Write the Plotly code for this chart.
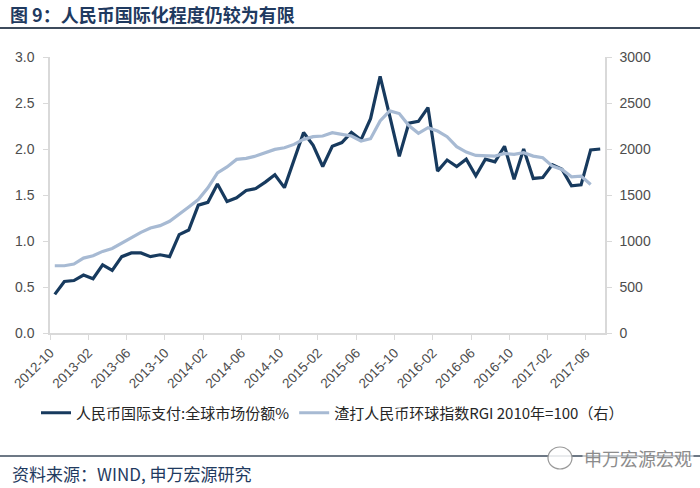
import plotly.graph_objects as go

months = ["2012-10","2012-11","2012-12","2013-01","2013-02","2013-03","2013-04","2013-05","2013-06","2013-07",
          "2013-08","2013-09","2013-10","2013-11","2013-12","2014-01","2014-02","2014-03","2014-04","2014-05",
          "2014-06","2014-07","2014-08","2014-09","2014-10","2014-11","2014-12","2015-01","2015-02","2015-03",
          "2015-04","2015-05","2015-06","2015-07","2015-08","2015-09","2015-10","2015-11","2015-12","2016-01",
          "2016-02","2016-03","2016-04","2016-05","2016-06","2016-07","2016-08","2016-09","2016-10","2016-11",
          "2016-12","2017-01","2017-02","2017-03","2017-04","2017-05","2017-06","2017-07"]

swift_share = [0.42,0.56,0.57,0.63,0.59,0.74,0.68,0.83,0.87,0.87,
               0.83,0.85,0.83,1.07,1.12,1.39,1.42,1.62,1.43,1.47,
               1.55,1.57,1.64,1.72,1.58,1.89,2.18,2.04,1.81,2.03,
               2.07,2.18,2.10,2.33,2.79,2.36,1.92,2.28,2.30,2.45,
               1.76,1.88,1.81,1.89,1.71,1.89,1.86,2.03,1.67,2.00,
               1.68,1.69,1.83,1.78,1.60,1.61,1.99,2.00]

rgi_index = [731,731,749,814,840,887,919,978,1032,1094,
             1141,1167,1214,1287,1370,1450,1578,1741,1805,1887,
             1898,1923,1960,1996,2014,2050,2105,2134,2141,2178,
             2159,2141,2087,2112,2305,2414,2385,2255,2170,2232,
             2195,2134,2025,1966,1930,1923,1923,1952,1941,1960,
             1923,1905,1814,1778,1698,1705,1614]

tick_labels = ["2012-10","2013-02","2013-06","2013-10","2014-02","2014-06","2014-10","2015-02",
               "2015-06","2015-10","2016-02","2016-06","2016-10","2017-02","2017-06"]

name_share = "人民币国际支付:全球市场份额%"
name_rgi = "渣打人民币环球指数RGI 2010年=100（右）"

FONT = "Liberation Sans, Arial, Noto Sans CJK SC"
CJK = "Noto Sans CJK SC"

xs_share = [i + 0.5 for i in range(len(swift_share))]
xs_rgi = [i + 0.5 for i in range(len(rgi_index))]
tick_pos = [months.index(t) for t in tick_labels]

fig = go.Figure()
fig.add_trace(go.Scatter(x=xs_share, y=swift_share, mode="lines", name=name_share,
                         line=dict(color="#173a5e", width=3.2), yaxis="y"))
fig.add_trace(go.Scatter(x=xs_rgi, y=rgi_index, mode="lines", name=name_rgi,
                         line=dict(color="#a7bad3", width=3.2), yaxis="y2"))

W, H = 700, 488
L, R, T, B = 50, 95, 57, 155
pw = W - L - R
ph = H - T - B

def px_x(px):
    return (px - L) / pw

def px_y(py):
    return (H - B - py) / ph

axis_gray = "#d9d9d9"
tick_col = "#4d4d4d"

fig.update_layout(
    width=W, height=H,
    margin=dict(l=L, r=R, t=T, b=B, autoexpand=False),
    paper_bgcolor="white", plot_bgcolor="white",
    font=dict(family=FONT, size=13, color=tick_col),
    xaxis=dict(range=[0, len(months)], tickmode="array", tickvals=tick_pos, ticktext=tick_labels,
               tickangle=-45, showgrid=False, zeroline=False, showline=True, linecolor=axis_gray,
               linewidth=1.5, ticks="outside", ticklen=5, tickcolor=axis_gray,
               tickfont=dict(size=13.5, color=tick_col, family=FONT)),
    yaxis=dict(range=[0, 3], dtick=0.5, tickformat=".1f", showgrid=False, zeroline=False,
               showline=True, linecolor=axis_gray, linewidth=1.5, ticks="outside", ticklen=5,
               tickcolor=axis_gray, ticklabelstandoff=6,
               tickfont=dict(size=14, color=tick_col, family=FONT)),
    yaxis2=dict(range=[0, 3000], dtick=500, overlaying="y", side="right", showgrid=False,
                zeroline=False, showline=True, linecolor=axis_gray, linewidth=1.5, ticks="outside",
                ticklen=5, tickcolor=axis_gray, ticklabelstandoff=5,
                tickfont=dict(size=14, color=tick_col, family=FONT)),
    legend=dict(orientation="h", x=px_x(36), y=px_y(413), xanchor="left", yanchor="middle",
                font=dict(size=15, color="#262626", family=CJK), bgcolor="rgba(0,0,0,0)",
                itemwidth=30, tracegroupgap=0),
    showlegend=True,
)

# title
fig.add_annotation(xref="paper", yref="paper", x=px_x(8), y=px_y(14), xanchor="left", yanchor="middle",
                   text="<b>图 9：人民币国际化程度仍较为有限</b>", showarrow=False,
                   font=dict(size=18, color="#1f3a60", family=CJK))
fig.add_shape(type="line", xref="paper", yref="paper", x0=px_x(0), x1=px_x(700),
              y0=px_y(28), y1=px_y(28), line=dict(color="#3d4b5c", width=2))

# footer
fig.add_shape(type="line", xref="paper", yref="paper", x0=px_x(0), x1=px_x(700),
              y0=px_y(456), y1=px_y(456), line=dict(color="#3d4b5c", width=1.5))
fig.add_annotation(xref="paper", yref="paper", x=px_x(10), y=px_y(473), xanchor="left", yanchor="middle",
                   text="资料来源：WIND, 申万宏源研究", showarrow=False,
                   font=dict(size=17, color="#1f3a60", family=CJK))
fig.add_shape(type="circle", xref="paper", yref="paper", x0=px_x(548), x1=px_x(572),
              y0=px_y(469), y1=px_y(447), line=dict(color="#9a9a9a", width=1.2),
              fillcolor="rgba(255,255,255,0.85)")
fig.add_annotation(xref="paper", yref="paper", x=px_x(694), y=px_y(458), xanchor="right", yanchor="middle",
                   text="申万宏源宏观", showarrow=False, bgcolor="rgba(255,255,255,0.6)",
                   font=dict(size=18, color="#8c8c8c", family=CJK))

fig.write_html("out.html", config={"displayModeBar": False},
               post_script="document.body.style.margin='0';document.body.style.overflow='hidden';")
